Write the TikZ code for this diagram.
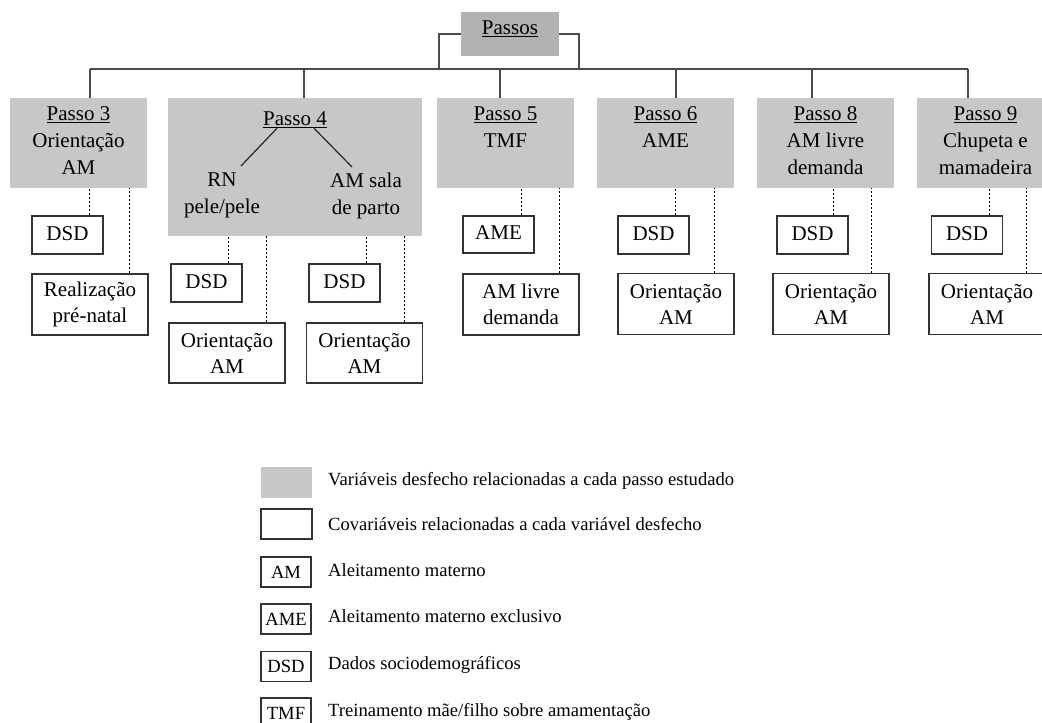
\documentclass[tikz,border=0pt]{standalone}
\usepackage{fontspec}
\setmainfont{Liberation Serif}
\usetikzlibrary{calc}
\def\covlink(#1)(#2)(#3){\draw[dotline] ($(#1.north east)+(#3,0)$) coordinate (tmp) -- (tmp |- #2.south);}

\tikzset{
	stepbox/.style={fill=black!22, inner sep=0pt, minimum width=137pt, minimum height=90pt},
	steptext/.style={anchor=north, align=center, inner sep=0pt, font=\fontsize{21}{27}\selectfont},
	covbox/.style={draw=black!80, line width=1.2pt, fill=white, align=center, inner sep=0pt, font=\fontsize{21}{26}\selectfont},
	dsdbox/.style={covbox, minimum width=71pt, minimum height=38pt, text depth=3pt},
	orbox/.style={covbox, minimum width=116pt, minimum height=61pt},
	treeline/.style={draw=black!70, line width=1.3pt},
	dotline/.style={line width=1.2pt, dash pattern=on 2pt off 2pt},
	legbox/.style={draw=black!80, line width=1.2pt, minimum width=50pt, minimum height=30pt, inner sep=0pt, font=\fontsize{18.6}{22}\selectfont},
	legtext/.style={anchor=base west, inner sep=0pt, font=\fontsize{18.6}{22}\selectfont}
}

\begin{document}
\begin{tikzpicture}[x=1pt, y=-1pt]
			%%%%% START %%%%%
			\useasboundingbox (0,0) rectangle (1042,723);
			
			\node[fill=black!30, minimum width=98pt, minimum height=44pt, inner sep=0pt, text depth=12pt, font=\fontsize{21}{27}\selectfont] (ps) at (510,34) {\underline{Passos}};
			
			\node[stepbox] (p3) at (78.5,143) {};
			\node[stepbox, minimum width=254pt, minimum height=138pt] (p4) at (295,167) {};
			\node[stepbox] (p5) at (505.5,143) {};
			\node[stepbox] (p6) at (665.5,143) {};
			\node[stepbox] (p8) at (825.5,143) {};
			\node[stepbox] (p9) at (985.5,143) {};
			
			\node[steptext] (p3t) at ($(p3.north)+(0,9)$) {\underline{Passo 3}\\Orientação\\AM};
			\node[steptext] (p4t) at ($(p4.north)+(0,14)$) {\underline{Passo 4}};
			\node[steptext] (rn) at (222,173) {RN\\pele/pele};
			\node[steptext] (amsp) at (366,173) {AM sala\\de parto};
			\node[steptext] (p5t) at ($(p5.north)+(0,9)$) {\underline{Passo 5}\\TMF};
			\node[steptext] (p6t) at ($(p6.north)+(0,9)$) {\underline{Passo 6}\\AME};
			\node[steptext] (p8t) at ($(p8.north)+(0,9)$) {\underline{Passo 8}\\AM livre\\demanda};
			\node[steptext] (p9t) at ($(p9.north)+(0,9)$) {\underline{Passo 9}\\Chupeta e\\mamadeira};
			
			\draw[line width=1.2pt, black!85] ($(p4t.south)+(-18,0)$) -- ($(rn.north)+(19,-7)$);
			\draw[line width=1.2pt, black!85] ($(p4t.south)+(19,0)$) -- ($(amsp.north)+(-14,-6)$);
			
			% tree
			\coordinate (b3) at (90,69);
			\coordinate (b4) at (304,69);
			\coordinate (b5) at (500,69);
			\coordinate (b6) at (676,69);
			\coordinate (b8) at (812,69);
			\coordinate (b9) at (968,69);
			\coordinate (bl) at (439,69);
			\coordinate (br) at (579,69);
			\draw[treeline] (b3) -- (b9);
			\draw[treeline] (ps.west) -| (bl);
			\draw[treeline] (ps.east) -| (br);
			\draw[treeline] (b3) -- (b3 |- p3.north);
			\draw[treeline] (b4) -- (b4 |- p4.north);
			\draw[treeline] (b5) -- (b5 |- p5.north);
			\draw[treeline] (b6) -- (b6 |- p6.north);
			\draw[treeline] (b8) -- (b8 |- p8.north);
			\draw[treeline] (b9) -- (b9 |- p9.north);
			
			% covariates
			\node[dsdbox] (p3d) at (67.5,235) {DSD};
			\node[orbox] (p3r) at (90,304.5) {Realização\\pré-natal};
			\node[dsdbox] (p4d1) at (206.5,283) {DSD};
			\node[orbox, minimum height=60pt] (p4o1) at (227,353) {Orientação\\AM};
			\node[dsdbox] (p4d2) at (344.5,283) {DSD};
			\node[orbox, minimum height=60pt] (p4o2) at (364.5,353) {Orientação\\AM};
			\node[dsdbox, minimum height=37pt] (p5a) at (498.5,234.5) {AME};
			\node[orbox] (p5l) at (521,304.5) {AM livre\\demanda};
			\node[dsdbox] (p6d) at (653.5,235) {DSD};
			\node[orbox] (p6o) at (676,304) {Orientação\\AM};
			\node[dsdbox] (p8d) at (812.5,235) {DSD};
			\node[orbox] (p8o) at (831,304) {Orientação\\AM};
			\node[dsdbox] (p9d) at (967,235) {DSD};
			\node[orbox] (p9o) at (987,304) {Orientação\\AM};
			
			\covlink(p3d)(p3)(-14)
			\covlink(p3r)(p3)(-19)
			\covlink(p4d1)(p4)(-14)
			\covlink(p4o1)(p4)(-19)
			\covlink(p4d2)(p4)(-14)
			\covlink(p4o2)(p4)(-19)
			\covlink(p5a)(p5)(-13)
			\covlink(p5l)(p5)(-20)
			\covlink(p6d)(p6)(-14)
			\covlink(p6o)(p6)(-20)
			\covlink(p8d)(p8)(-15)
			\covlink(p8o)(p8)(-18)
			\covlink(p9d)(p9)(-14)
			\covlink(p9o)(p9)(-19)
			
			% legend
			\node[fill=black!22, minimum width=51pt, minimum height=31pt, inner sep=0pt] (lg1) at (286.5,482.5) {};
			\node[legbox, minimum width=51pt] (lg2) at (286.5,524) {};
			\node[legbox] (lg3) at (286,572) {AM};
			\node[legbox] (lg4) at (286,619) {AME};
			\node[legbox] (lg5) at (286,666.5) {DSD};
			\node[legbox] (lg6) at (286,713) {TMF};
			
			\node[legtext] (lt1) at (328,485) {Variáveis desfecho relacionadas a cada passo estudado};
			\node[legtext] (lt2) at (328,530) {Covariáveis relacionadas a cada variável desfecho};
			\node[legtext] (lt3) at (328,576) {Aleitamento materno};
			\node[legtext] (lt4) at (328,622) {Aleitamento materno exclusivo};
			\node[legtext] (lt5) at (328,669) {Dados sociodemográficos};
			\node[legtext] (lt6) at (328,716) {Treinamento mãe/filho sobre amamentação};
			%%%%% END %%%%%
\end{tikzpicture}
\end{document}
